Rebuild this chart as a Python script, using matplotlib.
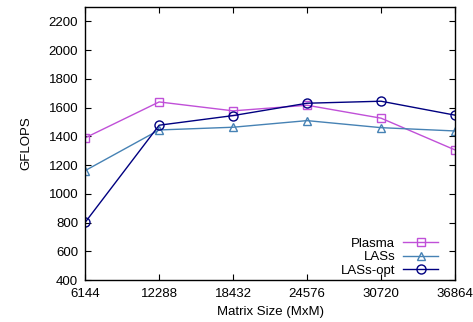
import matplotlib
matplotlib.use("Agg")
import matplotlib.pyplot as plt

# Data
sizes = [6144, 12288, 18432, 24576, 30720, 36864]
plasma = [1390, 1640, 1578, 1617, 1527, 1306]
lass = [1162, 1445, 1464, 1510, 1461, 1438]
lass_opt = [802, 1478, 1545, 1631, 1645, 1548]
yticks = list(range(400, 2201, 200))

plt.rcParams['font.family'] = ['Liberation Sans', 'DejaVu Sans']
plt.rcParams['font.size'] = 9.5

fig = plt.figure(figsize=(4.73, 3.22), dpi=100)
ax = fig.add_axes([0.18, 0.13, 0.782, 0.848])

ax.plot(sizes, plasma, color='#c050d8', marker='s', markersize=6, mfc='none',
        mew=1.0, lw=1.0, label='Plasma')
ax.plot(sizes, lass, color='#4682b4', marker='^', markersize=6, mfc='none',
        mew=1.0, lw=1.0, label='LASs')
ax.plot(sizes, lass_opt, color='#000080', marker='o', markersize=6.5, mfc='none',
        mew=1.0, lw=1.0, label='LASs-opt')

ax.set_xlim(6144, 36864)
ax.set_ylim(400, 2300)
ax.set_xticks(sizes)
ax.set_yticks(yticks)
ax.tick_params(direction='in', top=True, right=True, length=4, width=0.8)
ax.tick_params(axis='x', pad=6)
ax.tick_params(axis='y', pad=5)
for s in ax.spines.values():
    s.set_linewidth(1.0)

ax.set_xlabel('Matrix Size (MxM)', labelpad=4)
ax.set_ylabel('GFLOPS', labelpad=12)

ax.legend(loc='lower right', bbox_to_anchor=(0.954, 0.012), frameon=False,
          markerfirst=False, handlelength=2.65, labelspacing=0.1,
          borderaxespad=0, borderpad=0, handletextpad=0.6)

fig.savefig('out.png', dpi=100)
